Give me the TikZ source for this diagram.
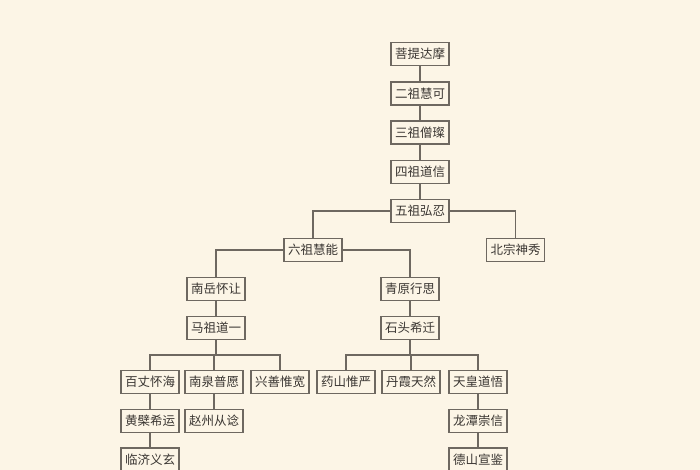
\documentclass[tikz,border=0pt]{standalone}
\usepackage{fontspec}
\newfontfamily\cjk{Noto Sans CJK SC}
\definecolor{bg}{HTML}{FCF5E6}
\definecolor{ln}{HTML}{6E6860}
\definecolor{tx}{HTML}{3A3632}
\begin{document}
\begin{tikzpicture}[x=1pt,y=-1pt,
  person/.style={draw=ln,line width=1.3pt,fill=bg,minimum width=58pt,minimum height=23pt,inner sep=0pt,font=\cjk\fontsize{12.5}{14}\selectfont,text=tx},
  link/.style={draw=ln,line width=1.3pt}]
\clip (0,0) rectangle (700,470);
\fill[bg] (0,0) rectangle (700,470);
\node[person] (damo) at (420,54) {菩提达摩};
\node[person] (huike) at (420,93.5) {二祖慧可};
\node[person] (sengcan) at (420,132.5) {三祖僧璨};
\node[person] (daoxin) at (420,172) {四祖道信};
\node[person] (hongren) at (420,211) {五祖弘忍};
\node[person] (huineng) at (313,250) {六祖慧能};
\node[person] (shenxiu) at (515.5,250) {北宗神秀};
\node[person] (nanyue) at (216,289) {南岳怀让};
\node[person] (qingyuan) at (410,289) {青原行思};
\node[person] (mazu) at (216,328) {马祖道一};
\node[person] (shitou) at (410,328) {石头希迁};
\node[person] (baizhang) at (150,382) {百丈怀海};
\node[person] (nanquan) at (214,382) {南泉普愿};
\node[person] (xingshan) at (280,382) {兴善惟宽};
\node[person] (yaoshan) at (346,382) {药山惟严};
\node[person] (danxia) at (411,382) {丹霞天然};
\node[person] (tianhuang) at (478,382) {天皇道悟};
\node[person] (huangbo) at (150,421) {黄檗希运};
\node[person] (zhaozhou) at (214,421) {赵州从谂};
\node[person] (longtan) at (478,421) {龙潭崇信};
\node[person] (linji) at (150,459.5) {临济义玄};
\node[person] (deshan) at (478,459.5) {德山宣鉴};
\coordinate (mb) at (216,355);
\coordinate (sb) at (410,355);
\begin{scope}[on background layer/.style={}]
\end{scope}
\path[link] (damo) -- (huike);
\path[link] (huike) -- (sengcan);
\path[link] (sengcan) -- (daoxin);
\path[link] (daoxin) -- (hongren);
\path[link] (hongren) -| (huineng);
\path[link] (hongren) -| (shenxiu);
\path[link] (huineng) -| (nanyue);
\path[link] (huineng) -| (qingyuan);
\path[link] (nanyue) -- (mazu);
\path[link] (qingyuan) -- (shitou);
\path[link] (mazu) -- (mb);
\path[link] (mb) -| (baizhang);
\path[link] (mb) -| (nanquan);
\path[link] (mb) -| (xingshan);
\path[link] (shitou) -- (sb);
\path[link] (sb) -| (yaoshan);
\path[link] (sb) -| (danxia);
\path[link] (sb) -| (tianhuang);
\path[link] (baizhang) -- (huangbo);
\path[link] (huangbo) -- (linji);
\path[link] (nanquan) -- (zhaozhou);
\path[link] (tianhuang) -- (longtan);
\path[link] (longtan) -- (deshan);
\end{tikzpicture}
\end{document}
